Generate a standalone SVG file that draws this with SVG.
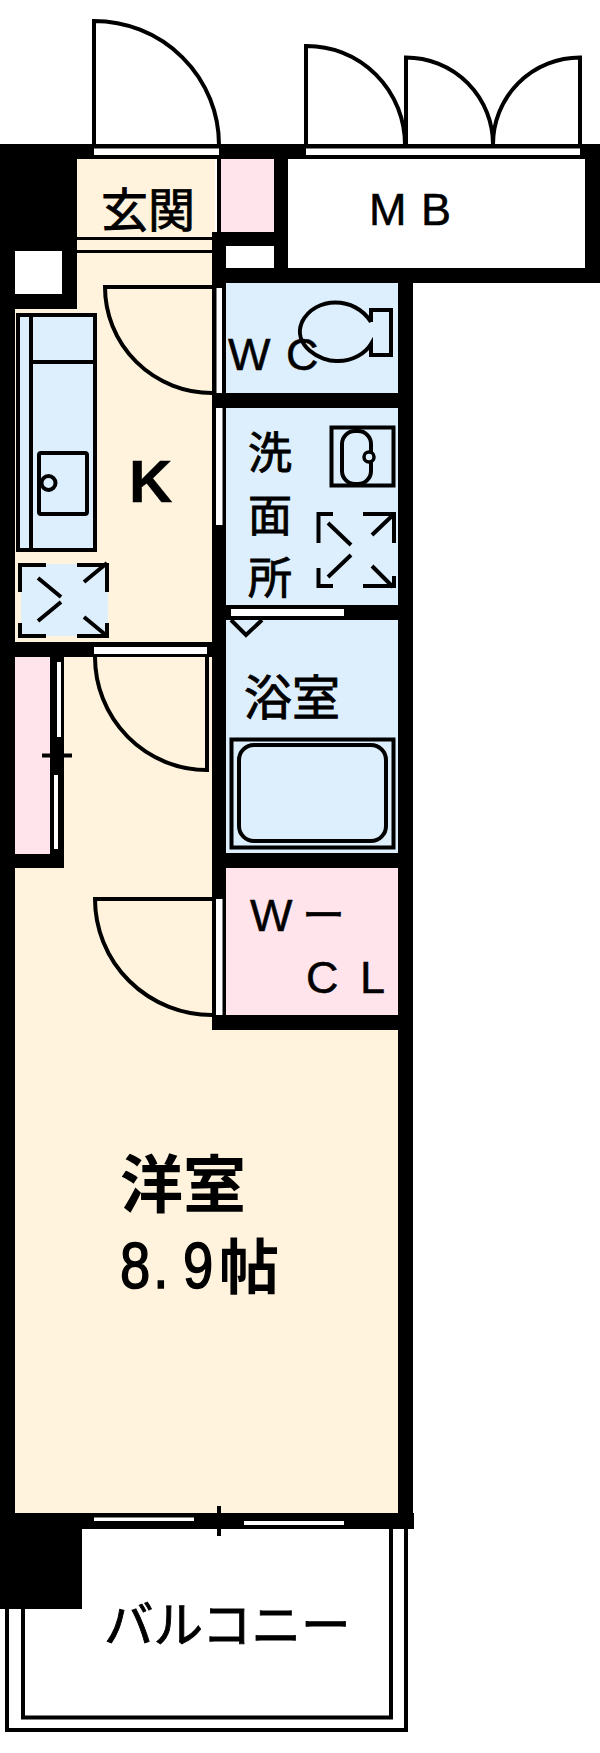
<svg xmlns="http://www.w3.org/2000/svg" width="600" height="1753" viewBox="0 0 600 1753">
<style>
.w{fill:#000}
.c{fill:#fff3de}
.b{fill:#ddeefc}
.p{fill:#ffe4ec}
.s{fill:#fff}
.l{fill:none;stroke:#000;stroke-width:4}
.t{font-family:"Noto Sans CJK JP","Liberation Sans",sans-serif;fill:#000;stroke:#000;stroke-width:.9}
.a{font-family:"Liberation Sans",sans-serif;fill:#000;stroke:#000;stroke-width:.5}
.h{font-family:"Noto Sans CJK JP","Liberation Sans",sans-serif;font-weight:700;fill:#000}
</style>
<rect width="600" height="1753" fill="#fff"/>
<g id="floors">
<rect class="c" x="15" y="159" width="200" height="1360"/>
<rect class="c" x="64" y="640" width="150" height="880"/>
<rect class="c" x="15" y="868" width="385" height="646"/>
<rect class="p" x="15" y="655" width="36" height="200"/>
<rect class="p" x="219" y="159" width="56" height="73"/>
<rect class="b" x="226" y="283" width="173" height="111"/>
<rect class="b" x="226" y="408" width="173" height="198"/>
<rect class="b" x="226" y="620" width="173" height="234"/>
<rect class="p" x="226" y="868" width="173" height="148"/>
</g>
<g id="walls">
<rect class="w" x="0" y="144" width="600" height="15"/>
<rect class="w" x="0" y="144" width="15" height="1465"/>
<rect class="w" x="15" y="159" width="62" height="92"/>
<rect class="w" x="62" y="240" width="15" height="69"/>
<rect class="w" x="15" y="294" width="62" height="15"/>
<rect class="w" x="217" y="159" width="4" height="75"/>
<rect class="w" x="274" y="159" width="14" height="124"/>
<rect class="w" x="212" y="232" width="62" height="14"/>
<rect class="w" x="212" y="232" width="14" height="798"/>
<rect class="w" x="212" y="268" width="388" height="15"/>
<rect class="w" x="585" y="144" width="15" height="139"/>
<rect class="w" x="398" y="283" width="15" height="1246"/>
<rect class="w" x="212" y="393" width="187" height="15"/>
<rect class="w" x="212" y="605" width="187" height="15"/>
<rect class="w" x="212" y="853" width="187" height="15"/>
<rect class="w" x="212" y="1015" width="187" height="15"/>
<rect class="w" x="15" y="642" width="197" height="15"/>
<rect class="w" x="50" y="657" width="14" height="211"/>
<rect class="w" x="15" y="854" width="49" height="14"/>
<rect class="w" x="0" y="1513" width="414" height="16"/>
<rect class="w" x="0" y="1513" width="82" height="96"/>
<rect class="s" x="15" y="251" width="47" height="43"/>
<rect class="s" x="226" y="246" width="48" height="22"/>
<rect class="s" x="288" y="159" width="297" height="109"/>
</g>
<g id="openings">
<rect class="s" x="94" y="148.500" width="125" height="6.500"/>
<rect class="s" x="306" y="148.500" width="274" height="6.500"/>
<rect class="w" x="77" y="237" width="135" height="3"/>
<rect class="w" x="77" y="250" width="135" height="3"/>
<rect class="s" x="216.500" y="288" width="5.500" height="105"/>
<rect class="s" x="216" y="408" width="6.500" height="117"/>
<rect class="s" x="231" y="609" width="113" height="7"/>
<rect class="s" x="94" y="647" width="113" height="7"/>
<rect class="s" x="57" y="662" width="4" height="75"/>
<rect class="s" x="54" y="775" width="4" height="74"/>
<rect class="s" x="216" y="899" width="6.500" height="116"/>
<rect class="s" x="94" y="1517.500" width="100" height="3.500"/>
<rect class="s" x="244" y="1521" width="100" height="4"/>
<path class="l" d="M42 755.500H72M59 737V775M219 1506V1536"/>
</g>
<g id="doors">
<path class="l" d="M94 145V21A125 124 0 0 1 219 145"/>
<path class="l" d="M306 145V46A98 99 0 0 1 405 145H406V57.500A87 87 0 0 1 493 145A87 87 0 0 1 580 57.500V145"/>
<path class="l" d="M212 287H105A107 106 0 0 0 212 393"/>
<path class="l" d="M95 657A112 113 0 0 0 207 770V657"/>
<path class="l" d="M212 899H95A117 116 0 0 0 212 1015"/>
<path class="l" d="M231 620L246 635L262 620"/>
</g>
<g id="kitchen">
<rect class="b" x="18" y="314" width="77" height="236"/>
<path class="l" d="M18 550V315H95V550ZM31 315V550M32 362H95"/>
<rect class="l" x="39" y="453" width="48" height="61" rx="2"/>
<circle class="l" cx="48.500" cy="483" r="7"/>
</g>
<g id="fridge">
<rect class="b" x="21" y="564" width="87" height="72"/>
<path class="l" d="M20 592V565H46M77 565H107V592M20 623V636H46M77 636H107V623M38 578L61 597M38 621L61 602M84 582L107 563M84 617L107 636"/>
</g>
<g id="toilet">
<path class="l" d="M371 322C355 296 315 296 302 322C292 345 320 362 338 361C352 361 365 354 371 344V355H391V310H371V322"/>
</g>
<g id="washroom">
<rect class="l" x="331.500" y="427.500" width="62" height="58"/>
<rect class="l" x="342" y="431" width="29" height="53" rx="13"/>
<circle cx="369" cy="457" r="5" fill="#ddeefc" stroke="#000" stroke-width="3.500"/>
<path class="l" d="M318.500 543V514H333M363 514H394V543M328 523L351 545M372 535L394 514M318.500 568V586H333M363 586H394V576M328 577L351 555M372 566L393 587"/>
</g>
<g id="bath">
<rect class="l" x="231.500" y="739.500" width="162" height="108"/>
<rect class="l" x="239" y="745" width="147" height="96" rx="15"/>
</g>
<g id="balcony">
<path class="l" d="M7 1609V1730H406V1529M23 1609V1717.500H391V1529"/>
</g>
<g id="labels">
<text class="t" x="101" y="227" font-size="47">玄関</text>
<text class="a" x="369 421" y="225" font-size="45">MB</text>
<text class="a" x="228 286" y="370" font-size="45">WC</text>
<text class="a" x="129" y="502" font-size="60" font-weight="700">K</text>
<text class="t" x="248" y="469" font-size="44">洗</text>
<text class="t" x="248" y="532" font-size="44">面</text>
<text class="t" x="248" y="594" font-size="44">所</text>
<text class="t" x="244" y="715" font-size="48">浴室</text>
<text class="a" x="250 302" y="931" font-size="45">W<tspan style="font-family:'Noto Sans CJK JP',sans-serif" font-size="43">ー</tspan></text>
<text class="a" x="306 360" y="993" font-size="45">CL</text>
<text class="h" x="120" y="1207" font-size="63">洋室</text>
<text class="h" transform="translate(120 1288) scale(.85 1)" x="0 39 74" y="0" font-size="64" style="font-family:'Liberation Sans',sans-serif;font-weight:400;stroke:#000;stroke-width:1.5">8.9</text>
<text class="h" x="219" y="1289" font-size="60">帖</text>
<text class="t" x="104" y="1643" font-size="49.500">バルコニー</text>
</g>
</svg>
